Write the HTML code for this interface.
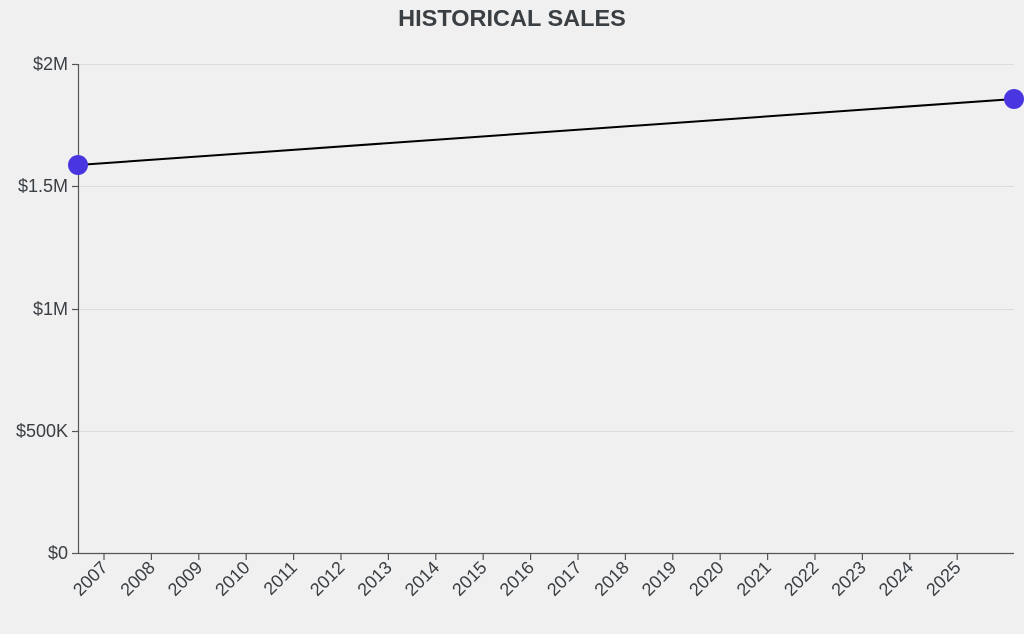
<!DOCTYPE html>
<html><head><meta charset="utf-8"><style>
html,body{margin:0;padding:0;background:#f0f0f0;}
svg{display:block;font-family:"Liberation Sans",sans-serif;}
</style></head><body>
<svg width="1024" height="634" viewBox="0 0 1024 634">
<rect width="1024" height="634" fill="#f0f0f0"/>
<text x="512" y="26" text-anchor="middle" font-size="23.5" font-weight="bold" fill="#3a3f44">HISTORICAL SALES</text>
<g stroke="#dcdcdc" stroke-width="1">
<line x1="78" x2="1014" y1="64.5" y2="64.5"/>
<line x1="78" x2="1014" y1="186.5" y2="186.5"/>
<line x1="78" x2="1014" y1="309.5" y2="309.5"/>
<line x1="78" x2="1014" y1="431.5" y2="431.5"/>
</g>
<g stroke="#555" stroke-width="1.2">
<line x1="78.5" y1="64" x2="78.5" y2="553"/>
<line x1="78" y1="553.5" x2="1014" y2="553.5"/>
<line x1="72" x2="78" y1="64.5" y2="64.5"/>
<line x1="72" x2="78" y1="186.5" y2="186.5"/>
<line x1="72" x2="78" y1="309.5" y2="309.5"/>
<line x1="72" x2="78" y1="431.5" y2="431.5"/>
<line x1="72" x2="78" y1="553.5" y2="553.5"/>
</g>
<g font-size="18" fill="#3a3f44" text-anchor="end">
<text x="68" y="70">$2M</text>
<text x="68" y="192">$1.5M</text>
<text x="68" y="315">$1M</text>
<text x="68" y="437">$500K</text>
<text x="68" y="559">$0</text>
</g>
<g id="xt" stroke="#555" stroke-width="1.2"></g>
<g id="xl" font-size="18" fill="#3a3f44" text-anchor="end"></g>
<line x1="78" y1="165" x2="1014" y2="99" stroke="#000" stroke-width="2"/>
<circle cx="78" cy="165" r="10" fill="#4a36e0"/>
<circle cx="1014" cy="99" r="10" fill="#4a36e0"/>
<script>
var t=document.getElementById('xt'),l=document.getElementById('xl'),ns='http://www.w3.org/2000/svg';
for(var i=0;i<19;i++){var x=104+i*47.4;
var ln=document.createElementNS(ns,'line');ln.setAttribute('x1',x);ln.setAttribute('x2',x);ln.setAttribute('y1',553);ln.setAttribute('y2',560);t.appendChild(ln);
var tx=document.createElementNS(ns,'text');tx.setAttribute('transform','translate('+(x-1)+',563) rotate(-45)');tx.setAttribute('y','8');tx.textContent=2007+i;l.appendChild(tx);}
</script>
</svg>
</body></html>
